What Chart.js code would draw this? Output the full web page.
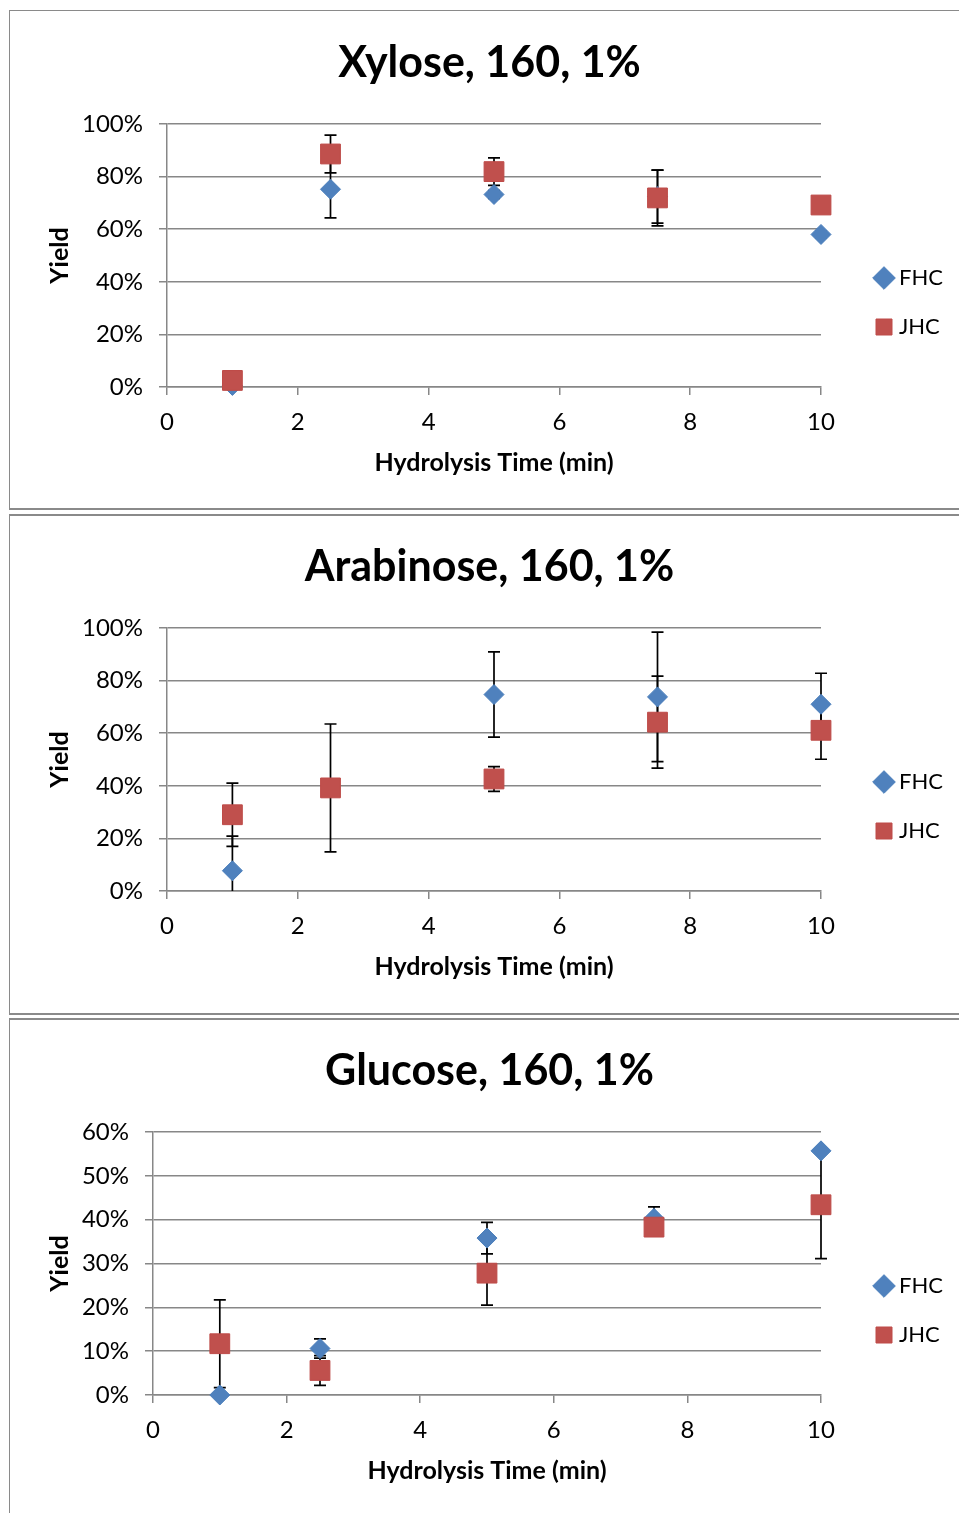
<!DOCTYPE html>
<html>
<head>
<meta charset="utf-8">
<script src="https://cdn.jsdelivr.net/npm/chart.js@4.4.1/dist/chart.umd.min.js"></script>
<style>
  html, body { margin: 0; padding: 0; background: #fff; overflow: hidden; }
  body { width: 959px; height: 1513px; position: relative; }
  .panel { position: absolute; left: 9px; width: 1000px; height: 497px; border: 1px solid #8a8a8a; border-bottom-width: 2px; }
  canvas { position: absolute; left: 10px; }
</style>
</head>
<body>
<div class="panel" style="top:10px"></div>
<div class="panel" style="top:514px;border-top-width:2px"></div>
<div class="panel" style="top:1018px;border-top-width:2px"></div>
<canvas id="xyloseChart" width="959" height="496" style="top:12px"></canvas>
<canvas id="arabinoseChart" width="959" height="496" style="top:516px"></canvas>
<canvas id="glucoseChart" width="959" height="496" style="top:1020px"></canvas>
<script>
const seriesNames = ["FHC", "JHC"];
const hydrolysisTimes = [1, 2.5, 5, 7.5, 10];
const xTicks = [0, 2, 4, 6, 8, 10];

// yields in %, error = half-length of error bar
const xyloseFHC = [0.6, 75.2, 73.2, 72.4, 58];
const xyloseFHCErr = [0, 10.9, 1.5, 10.1, 1.2];
const xyloseJHC = [2.5, 88.6, 81.9, 71.9, 69.2];
const xyloseJHCErr = [0, 7.2, 5.2, 10.6, 1.5];

const arabinoseFHC = [7.7, null, 74.7, 73.8, 71.0];
const arabinoseFHCErr = [13.2, 0, 16.2, 24.6, 11.8];
const arabinoseJHC = [29.0, 39.2, 42.6, 64.2, 61.1];
const arabinoseJHCErr = [12, 24.3, 4.7, 17.5, 11];

const glucoseFHC = [0, 10.6, 35.8, 40.3, 55.7];
const glucoseFHCErr = [0, 2.2, 3.6, 2.6, 0];
const glucoseJHC = [11.7, 5.6, 27.8, 38.3, 43.4];
const glucoseJHCErr = [10, 3.4, 7.3, 1.5, 12.3];

const yTicks100 = [0, 20, 40, 60, 80, 100];
const yTicks60 = [0, 10, 20, 30, 40, 50, 60];

const FONT = "Lato";
const GRID = "#878787";

// legend geometry: measure text so the legend lands where the original has it
const legendFont = 22, legendPad = 27, legendBoxW = 8, legendBoxH = 16;
const measureCtx = document.createElement("canvas").getContext("2d");
measureCtx.font = legendFont + "px " + FONT;
const legendTextW = Math.max(...seriesNames.map(n => measureCtx.measureText(n).width));
const legendW = legendPad + legendBoxW + legendFont / 2 + legendTextW + 10;
const legendLeft = 843;
const plotRight = 811;
const sidePad = 959 - legendLeft - legendW;

const errorBars = {
    id: "errorBars",
    beforeDatasetsDraw(chart) {
        const { ctx, chartArea, scales: { x, y } } = chart;
        ctx.save();
        ctx.beginPath();
        ctx.rect(chartArea.left - 20, chartArea.top, chartArea.width + 40, chartArea.height);
        ctx.clip();
        ctx.strokeStyle = "#000";
        ctx.lineWidth = 1.7;
        chart.data.datasets.forEach(ds => {
            ds.data.forEach((p, i) => {
                const e = ds.errors[i];
                if (p.y == null || !e) return;
                const px = x.getPixelForValue(p.x);
                const top = y.getPixelForValue(p.y + e);
                const bot = y.getPixelForValue(p.y - e);
                ctx.beginPath();
                ctx.moveTo(px, top); ctx.lineTo(px, bot);
                ctx.moveTo(px - 6, top); ctx.lineTo(px + 6, top);
                ctx.moveTo(px - 6, bot); ctx.lineTo(px + 6, bot);
                ctx.stroke();
            });
        });
        ctx.restore();
    }
};

function points(values) {
    return hydrolysisTimes.map((t, i) => ({ x: t, y: values[i] }));
}

function makeChart(id, title, fhc, fhcErr, jhc, jhcErr, yTicks, plotLeft) {
    const yMax = yTicks[yTicks.length - 1];
    new Chart(document.getElementById(id), {
        type: "scatter",
        data: {
            datasets: [{
                label: seriesNames[0],
                data: points(fhc),
                errors: fhcErr,
                order: 1, // drawn first, squares sit on top
                pointStyle: "rectRot",
                pointRadius: 10,
                backgroundColor: "#4F81BD",
                borderColor: "#4A7EBB",
                borderWidth: 1,
                clip: false,
                yAxisID: "y"
            }, {
                label: seriesNames[1],
                data: points(jhc),
                errors: jhcErr,
                order: 0,
                pointStyle: "rect",
                pointRadius: 14,
                backgroundColor: "#C0504D",
                borderColor: "#BE4B48",
                borderWidth: 1,
                clip: false,
                yAxisID: "y"
            }]
        },
        options: {
            responsive: false,
            animation: false,
            devicePixelRatio: 1,
            layout: { padding: { left: sidePad, right: sidePad, top: 0, bottom: 0 } },
            plugins: {
                title: {
                    display: true,
                    text: title,
                    color: "#000",
                    font: { family: FONT, size: 43, weight: "bold" },
                    padding: { top: 25, bottom: 35.4 }
                },
                legend: {
                    position: "right",
                    fullSize: false,
                    title: { display: true, text: "", font: { size: 10 }, padding: { top: 41, bottom: 41 } },
                    labels: {
                        usePointStyle: true,
                        boxWidth: legendBoxW,
                        boxHeight: legendBoxH,
                        padding: legendPad,
                        color: "#000",
                        font: { family: FONT, size: legendFont },
                        sort: (a, b) => a.datasetIndex - b.datasetIndex
                    }
                },
                tooltip: { enabled: false }
            },
            scales: {
                x: {
                    type: "linear",
                    position: "bottom",
                    min: 0,
                    max: 10,
                    afterBuildTicks: s => { s.ticks = xTicks.map(v => ({ value: v })); },
                    afterFit: s => { s.height = 121; },
                    grid: { drawOnChartArea: false, drawTicks: true, tickLength: 8, color: GRID, lineWidth: 1.5 },
                    border: { color: GRID, width: 1.5 },
                    ticks: { color: "#000", padding: 13, font: { family: FONT, size: 24 } },
                    title: {
                        display: true,
                        text: "Hydrolysis Time (min)",
                        color: "#000",
                        font: { family: FONT, size: 25, weight: "bold" },
                        padding: { top: 0, bottom: 30 }
                    }
                },
                y: {
                    type: "linear",
                    position: "left",
                    min: 0,
                    max: yMax,
                    afterBuildTicks: s => { s.ticks = yTicks.map(v => ({ value: v })); },
                    afterFit: s => { s.width = plotLeft - sidePad; },
                    grid: { drawTicks: true, tickLength: 8, color: GRID, lineWidth: 1.5 },
                    border: { color: GRID, width: 1.5 },
                    ticks: { color: "#000", padding: 16, font: { family: FONT, size: 24 }, callback: v => v + "%" },
                    title: {
                        display: true,
                        text: "Yield",
                        color: "#000",
                        font: { family: FONT, size: 25, weight: "bold" },
                        padding: { top: 50 - sidePad - 15, bottom: 0 }
                    }
                },
                pad: {
                    type: "linear",
                    position: "right",
                    grid: { display: false },
                    border: { display: false },
                    ticks: { display: false },
                    afterFit: s => { s.width = legendLeft - plotRight; }
                }
            }
        },
        plugins: [errorBars]
    });
}

makeChart("xyloseChart", "Xylose, 160, 1%", xyloseFHC, xyloseFHCErr, xyloseJHC, xyloseJHCErr, yTicks100, 157);
makeChart("arabinoseChart", "Arabinose, 160, 1%", arabinoseFHC, arabinoseFHCErr, arabinoseJHC, arabinoseJHCErr, yTicks100, 157);
makeChart("glucoseChart", "Glucose, 160, 1%", glucoseFHC, glucoseFHCErr, glucoseJHC, glucoseJHCErr, yTicks60, 143);
</script>
</body>
</html>
